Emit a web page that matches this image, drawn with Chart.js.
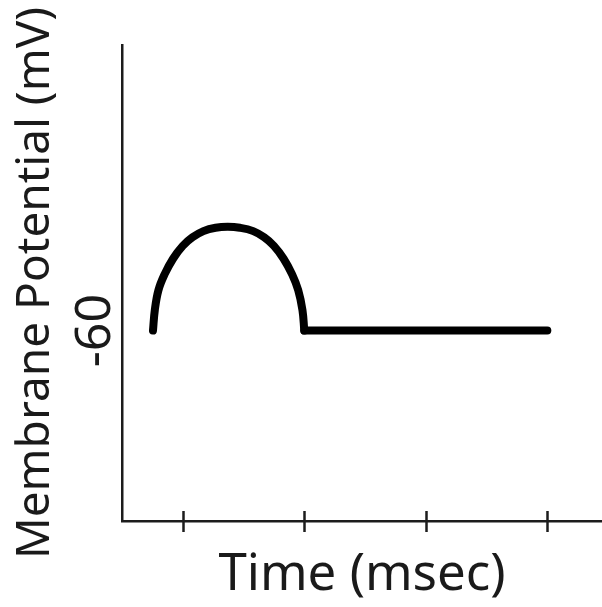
<!DOCTYPE html>
<html lang="en">
<head>
  <meta charset="UTF-8" />
  <title>Membrane Potential</title>
  <script src="https://cdn.jsdelivr.net/npm/chart.js"></script>
  <style>
    html, body {
      margin: 0;
      padding: 0;
      background: #ffffff;
    }
    #wrap {
      position: relative;
      width: 602px;
      height: 607px;
    }
  </style>
</head>
<body>
  <div id="wrap">
    <canvas id="chart"></canvas>
  </div>

  <script>
    // arc (action-potential like bump)
    const arcTime = [0.755, 0.77, 0.80, 0.85, 0.92, 1.00, 1.08, 1.17, 1.27, 1.37, 1.47, 1.58, 1.67, 1.75, 1.83, 1.90, 1.95, 1.985, 2.0];
    const arcPotential = [-60, -55.7, -51.5, -48.2, -44.9, -42.2, -40.4, -39.1, -38.4, -38.2, -38.4, -39.1, -40.4, -42.2, -44.9, -48.2, -51.5, -55.7, -60];
    // resting level
    const restTime = [2.0, 4.0];
    const restPotential = [-60, -60];

    const xTickValues = [1, 2, 3, 4];
    const yTickValues = [-60];
    const yTickLabels = ["-60"];

    const axisColor = "#1c1c1c";
    const fontFamily = "'Noto Sans', 'Open Sans', sans-serif";

    // tick marks that cross the x axis line
    const crossTicks = {
      id: "crossTicks",
      afterDraw(chart) {
        const ctx = chart.ctx;
        const xs = chart.scales.x;
        const y0 = chart.chartArea.bottom;
        ctx.save();
        ctx.strokeStyle = axisColor;
        ctx.lineWidth = 2.5;
        xTickValues.forEach(v => {
          const px = Math.round(xs.getPixelForValue(v)) + 0.5;
          ctx.beginPath();
          ctx.moveTo(px, y0 - 10);
          ctx.lineTo(px, y0 + 11);
          ctx.stroke();
        });
        ctx.restore();
      }
    };

    const toPoints = (xs, ys) => xs.map((x, i) => ({ x: x, y: ys[i] }));

    new Chart(document.getElementById("chart"), {
      type: "line",
      data: {
        datasets: [
          {
            data: toPoints(arcTime, arcPotential),
            borderColor: "#000000",
            borderWidth: 8,
            borderCapStyle: "round",
            borderJoinStyle: "round",
            tension: 0.4,
            pointRadius: 0,
            fill: false
          },
          {
            data: toPoints(restTime, restPotential),
            borderColor: "#000000",
            borderWidth: 8,
            borderCapStyle: "round",
            borderJoinStyle: "round",
            pointRadius: 0,
            fill: false
          }
        ]
      },
      options: {
        responsive: true,
        maintainAspectRatio: false,
        animation: false,
        layout: { padding: { top: 45, right: 0, left: 0, bottom: 0 } },
        plugins: {
          legend: { display: false },
          tooltip: { enabled: false }
        },
        scales: {
          x: {
            type: "linear",
            min: 0.5,
            max: 4.45,
            afterBuildTicks: s => { s.ticks = xTickValues.map(v => ({ value: v })); },
            afterFit: s => { s.height = 86; },
            grid: { display: false, drawTicks: false },
            border: { display: true, color: axisColor, width: 2.5 },
            ticks: { display: false },
            title: {
              display: true,
              text: "Time (msec)",
              color: "#1a1a1a",
              font: { family: fontFamily, size: 51 },
              padding: { top: 0, bottom: 1 }
            }
          },
          y: {
            type: "linear",
            min: -100,
            max: 0,
            afterBuildTicks: s => { s.ticks = yTickValues.map(v => ({ value: v })); },
            afterFit: s => { s.width = 122; },
            grid: { display: false, drawTicks: false },
            border: { display: true, color: axisColor, width: 2.5 },
            ticks: {
              minRotation: 90,
              maxRotation: 90,
              crossAlign: "center",
              padding: -10,
              color: "#1a1a1a",
              font: { family: fontFamily, size: 50 },
              callback: (v, i) => yTickLabels[i]
            },
            title: {
              display: true,
              text: "Membrane Potential (mV)",
              color: "#1a1a1a",
              font: { family: fontFamily, size: 46 },
              padding: { top: 8, bottom: 0 }
            }
          }
        }
      },
      plugins: [crossTicks]
    });
  </script>
</body>
</html>
